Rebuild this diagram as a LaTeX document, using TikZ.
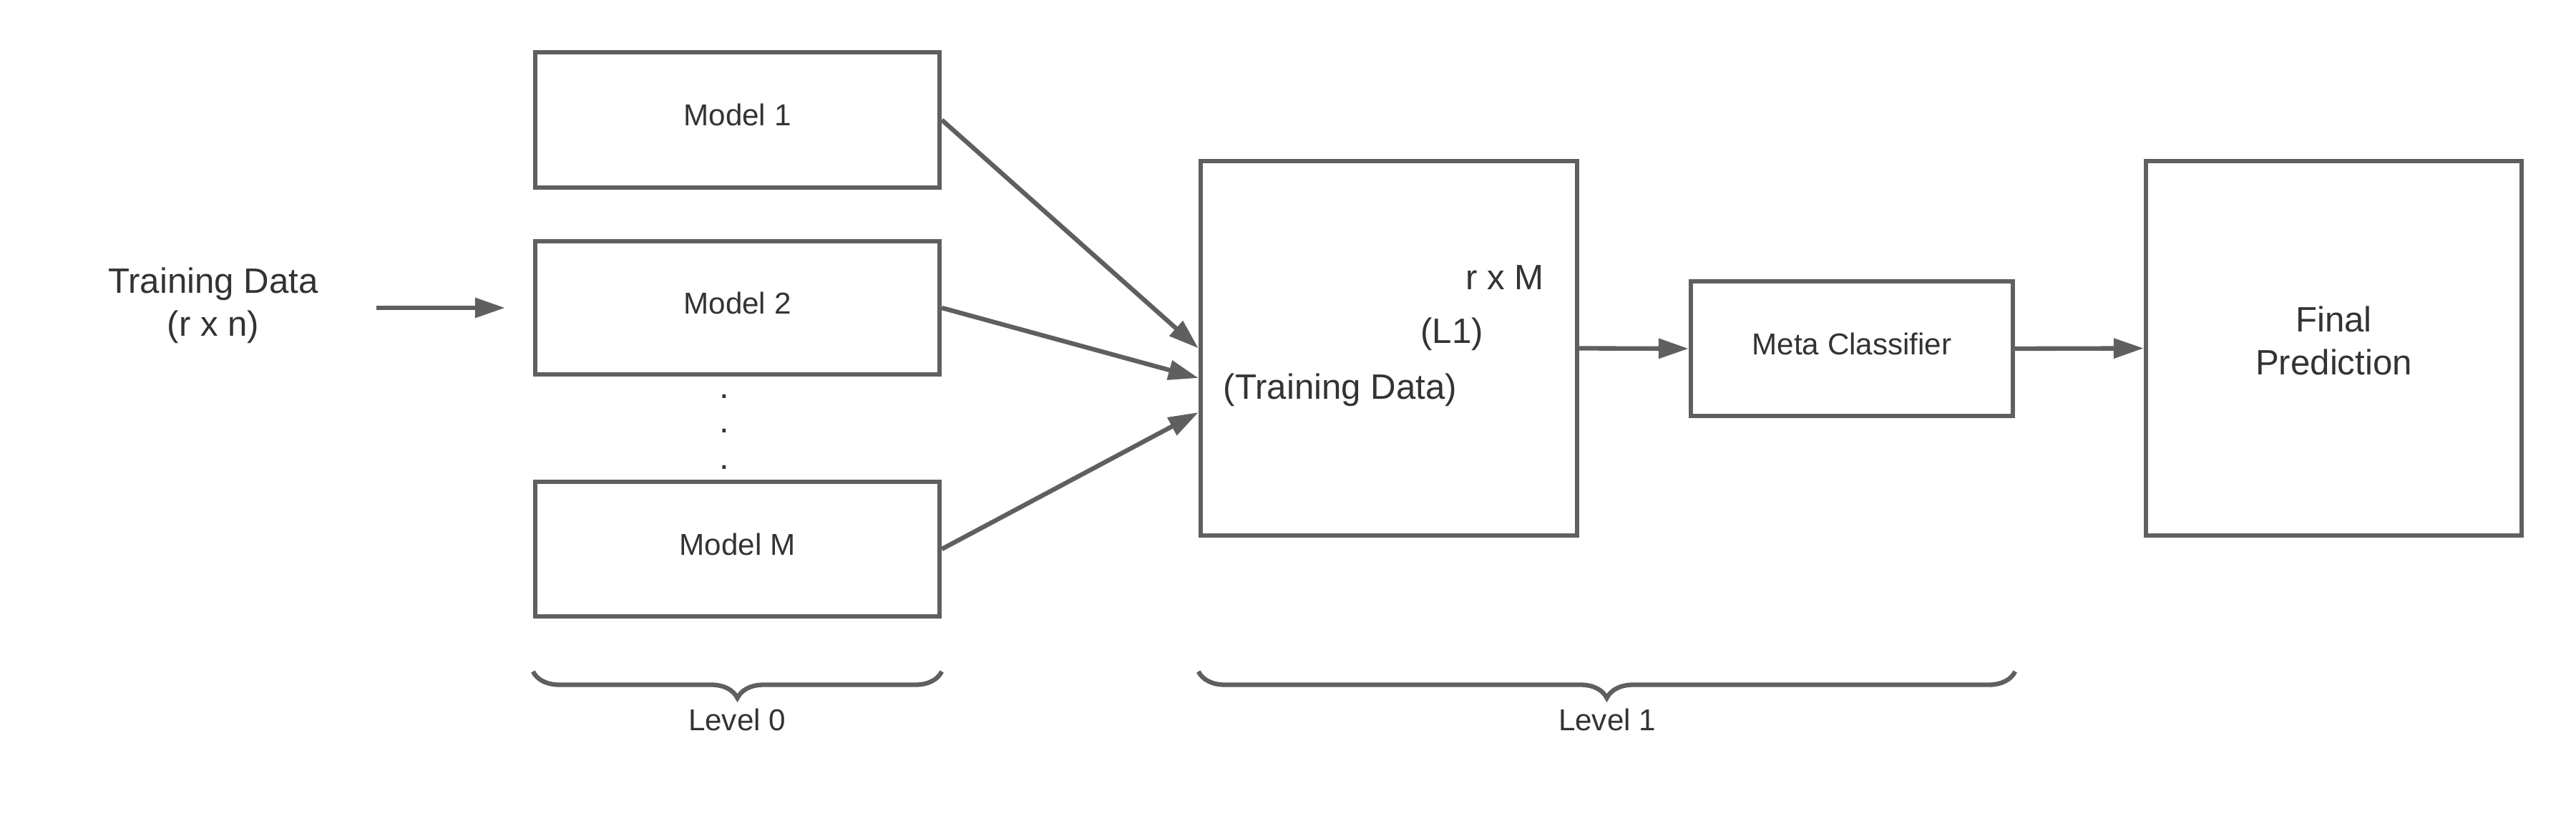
\documentclass[tikz,border=0pt]{standalone}
\usepackage{fontspec}
\setmainfont{Liberation Sans}
\usetikzlibrary{arrows.meta,decorations.pathreplacing}
\definecolor{linegray}{RGB}{95,95,95}
\definecolor{textgray}{RGB}{51,51,51}
\begin{document}
\begin{tikzpicture}[x=1cm,y=1cm,
  box/.style={draw=linegray,line width=1.8pt,text=textgray,font=\fontsize{12}{14}\selectfont,inner sep=0pt,text depth=0.14cm},
  big/.style={text=textgray,font=\fontsize{14}{17}\selectfont},
  small/.style={text=textgray,font=\fontsize{12}{14}\selectfont},
  arr/.style={draw=linegray,line width=1.8pt,-{Triangle[length=0.42cm,width=0.27cm]}},
  brc/.style={draw=linegray,line width=1.8pt,decorate,decoration={brace,mirror,amplitude=0.37cm}}]
\useasboundingbox (0,0) rectangle (36,-11.44);

\node[big,align=center] (td) at (2.98,-4.27) {Training Data\\(r x n)};
\coordinate (inS) at (5.26,-4.30);

\node[box,minimum width=5.65cm,minimum height=1.89cm] (m1) at (10.305,-1.675) {Model 1};
\node[box,minimum width=5.65cm,minimum height=1.86cm] (m2) at (10.305,-4.30) {Model 2};
\node[box,minimum width=5.65cm,minimum height=1.88cm] (mM) at (10.305,-7.67) {Model M};

\foreach \y [count=\i] in {5.57,6.05,6.56}{
    \node[big,anchor=base] (dot\i) at (10.12,-\y) {.};
}

\node[box,minimum width=5.26cm,minimum height=5.23cm] (l1) at (19.41,-4.865) {};
\node[big,anchor=base] (rxm) at (21.03,-4.05) {r x M};
\node[big,anchor=base] (lone) at (20.29,-4.80) {(L1)};
\node[big,anchor=base] (tdl) at (18.73,-5.58) {(Training Data)};

\node[box,minimum width=4.50cm,minimum height=1.88cm] (meta) at (25.88,-4.87) {Meta Classifier};
\node[box,big,align=center,text depth=0.22cm,minimum width=5.25cm,minimum height=5.23cm] (fin) at (32.615,-4.865) {Final\\Prediction};

\draw[arr] (inS) -- ([xshift=-0.39cm]m2.west);
\draw[arr] (m1.east) -- (l1.west);
\draw[arr] (m2.east) -- ([yshift=-0.415cm]l1.west);
\draw[arr] (mM.east) -- ([yshift=-0.895cm]l1.west);
\draw[arr] (l1.east) -- (meta.west);
\draw[arr] (meta.east) -- (fin.west);

\coordinate (lv) at (0,-9.38);
\draw[brc] (mM.south west |- lv) -- (mM.south east |- lv);
\draw[brc] (l1.south west |- lv) -- (meta.south east |- lv);
\node[small,anchor=base] (lev0) at (10.30,-10.20) {Level 0};
\node[small,anchor=base] (lev1) at (22.46,-10.20) {Level 1};
\end{tikzpicture}
\end{document}
